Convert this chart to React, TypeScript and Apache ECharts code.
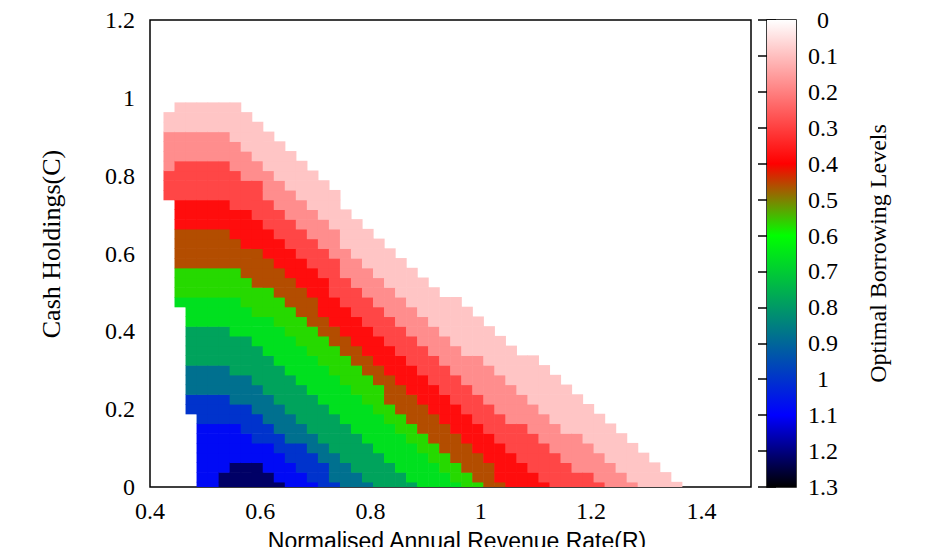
import React, { useEffect, useRef } from "react";
import * as echarts from "echarts";

// Grid of the map (cell centres)
const R_START = 0.435;
const R_STEP = 0.02;
const R_COUNT = 48;
const C_STEP = 0.025;
const C_COUNT = 40;

// Columns (R) at which band upper boundaries were read
const R_COLUMNS = [0.43, 0.47, 0.52, 0.55, 0.6, 0.65, 0.7, 0.8, 0.9, 1.0, 1.1, 1.2, 1.3, 1.4];

// Borrowing level of each band (outermost first)
const BAND_LEVELS = [0.09, 0.18, 0.29, 0.38, 0.46, 0.57, 0.66, 0.78, 0.88, 1.0, 1.08, 1.22];

// Upper boundary C of each band at R_COLUMNS
const BAND_TOPS = [
  [0.96, 0.99, 0.99, 0.99, 0.93, 0.87, 0.8, 0.66, 0.535, 0.43, 0.32, 0.2, 0.085, -0.05],
  [0.9, 0.91, 0.91, 0.89, 0.84, 0.78, 0.7, 0.56, 0.43, 0.32, 0.21, 0.1, -0.01, -0.15],
  [0.82, 0.835, 0.84, 0.82, 0.77, 0.7, 0.63, 0.48, 0.35, 0.24, 0.12, 0.025, -0.1, -0.2],
  [0.73, 0.737, 0.745, 0.72, 0.68, 0.62, 0.55, 0.4, 0.27, 0.16, 0.04, -0.08, -0.2, -0.3],
  [0.65, 0.66, 0.665, 0.64, 0.6, 0.54, 0.47, 0.33, 0.2, 0.07, -0.06, -0.2, -0.3, -0.4],
  [0.55, 0.563, 0.575, 0.56, 0.52, 0.46, 0.4, 0.27, 0.14, 0.0, -0.12, -0.2, -0.3, -0.4],
  [0.47, 0.488, 0.5, 0.48, 0.44, 0.39, 0.33, 0.21, 0.09, -0.04, -0.2, -0.3, -0.4, -0.5],
  [0.39, 0.41, 0.42, 0.4, 0.36, 0.3, 0.24, 0.11, -0.02, -0.2, -0.3, -0.4, -0.5, -0.6],
  [0.29, 0.305, 0.32, 0.3, 0.26, 0.2, 0.14, 0.01, -0.1, -0.2, -0.3, -0.4, -0.5, -0.6],
  [0.21, 0.225, 0.24, 0.22, 0.18, 0.13, 0.07, -0.06, -0.2, -0.3, -0.4, -0.5, -0.6, -0.7],
  [0.14, 0.16, 0.17, 0.16, 0.12, 0.07, 0.01, -0.1, -0.2, -0.3, -0.4, -0.5, -0.6, -0.7],
  [-0.1, -0.05, -0.01, 0.06, 0.07, 0.0, -0.1, -0.2, -0.3, -0.4, -0.5, -0.6, -0.7, -0.8],
];

// Left edge of the computed region: rows with C >= LEFT_EDGE_C[k] start at LEFT_EDGE_R[k]
const LEFT_EDGE_C = [0.75, 0.475, 0.2, 0];
const LEFT_EDGE_R = [0.435, 0.455, 0.475, 0.495];

// Axis ticks
const X_MIN = 0.4;
const X_MAX = 1.49;
const X_STEP = 0.2;
const Y_MIN = 0;
const Y_MAX = 1.2;
const Y_STEP = 0.2;
const CB_MIN = 0;
const CB_MAX = 1.3;
const CB_STEP = 0.1;

// Titles
const X_TITLE = "Normalised Annual Revenue Rate(R)";
const Y_TITLE = "Cash Holdings(C)";
const CB_TITLE = "Optimal Borrowing Levels";

// Palette (colour at every 0.1 from 0 to 1.3)
const PALETTE = [
  "#ffffff", "#ffbfbf", "#ff8080", "#ff4040", "#ff0000", "#808000", "#00ff00",
  "#00cc33", "#009966", "#006699", "#0033cc", "#0000ff", "#000080", "#000000",
];

function boundaryAt(tops: number[], r: number): number {
  if (r <= R_COLUMNS[0]) return tops[0];
  for (let i = 1; i < R_COLUMNS.length; i++) {
    if (r <= R_COLUMNS[i]) {
      const t = (r - R_COLUMNS[i - 1]) / (R_COLUMNS[i] - R_COLUMNS[i - 1]);
      return tops[i - 1] + t * (tops[i] - tops[i - 1]);
    }
  }
  return tops[tops.length - 1];
}

function leftEdge(c: number): number {
  for (let k = 0; k < LEFT_EDGE_C.length; k++) {
    if (c >= LEFT_EDGE_C[k] - 1e-9) return LEFT_EDGE_R[k];
  }
  return LEFT_EDGE_R[LEFT_EDGE_R.length - 1];
}

function buildCells(): number[][] {
  const cells: number[][] = [];
  for (let i = 0; i < R_COUNT; i++) {
    const r = Number((R_START + i * R_STEP).toFixed(4));
    for (let j = 0; j < C_COUNT; j++) {
      const c = Number((j * C_STEP).toFixed(4));
      if (r < leftEdge(c) - 1e-9) continue;
      let level = -1;
      for (let k = 0; k < BAND_TOPS.length; k++) {
        if (c <= boundaryAt(BAND_TOPS[k], r) + 1e-9) level = k;
      }
      if (level >= 0) cells.push([r, c, BAND_LEVELS[level]]);
    }
  }
  return cells;
}

const SERIF = "'Liberation Serif', 'Times New Roman', serif";
const SANS = "'Liberation Sans', Arial, sans-serif";

export default function App() {
  const ref = useRef<HTMLDivElement>(null);
  useEffect(() => {
    const chart = echarts.init(ref.current!, null, { renderer: "svg" });
    const cells = buildCells();
    const gradStops = PALETTE.map((color, i) => ({ offset: i / (PALETTE.length - 1), color }));
    const option: any = {
      animation: false,
      backgroundColor: "#ffffff",
      grid: [
        { left: 150, top: 20, width: 601, height: 467, outerBoundsMode: "none", containLabel: false, show: true, borderColor: "#000", borderWidth: 1.5, backgroundColor: "transparent" },
        { left: 767, top: 20, width: 29, height: 467, outerBoundsMode: "none", containLabel: false, show: true, borderColor: "#000", borderWidth: 1.5, backgroundColor: "transparent" },
      ],
      graphic: [
        {
          type: "text", x: 51, y: 244, rotation: Math.PI / 2,
          style: { text: Y_TITLE, fontFamily: SERIF, fontSize: 26, fill: "#000", align: "center", verticalAlign: "middle" },
        },
        {
          type: "text", x: 457, y: 529,
          style: { text: X_TITLE, fontFamily: SANS, fontSize: 23, fill: "#000", align: "center", verticalAlign: "top" },
        },
      ],
      xAxis: [
        {
          type: "value", gridIndex: 0, min: X_MIN, max: X_MAX, interval: X_STEP,
          axisLine: { show: false }, axisTick: { show: false }, splitLine: { show: false },
          axisLabel: { showMaxLabel: false, margin: 12, color: "#000", fontFamily: SERIF, fontSize: 24 },
        },
        { type: "value", gridIndex: 1, min: 0, max: 1, show: false },
      ],
      yAxis: [
        {
          type: "value", gridIndex: 0, min: Y_MIN, max: Y_MAX, interval: Y_STEP,
          axisLine: { show: false }, axisTick: { show: false }, splitLine: { show: false },
          axisLabel: { margin: 15, color: "#000", fontFamily: SERIF, fontSize: 24 },
        },
        {
          type: "value", gridIndex: 1, min: CB_MIN, max: CB_MAX, interval: CB_STEP, inverse: true, position: "right",
          axisLine: { show: false }, splitLine: { show: false },
          axisTick: { show: true, inside: true, length: 9, lineStyle: { color: "#000", width: 1.5 } },
          axisLabel: { margin: 27, align: "center", color: "#000", fontFamily: SERIF, fontSize: 24 },
          name: CB_TITLE, nameLocation: "middle", nameGap: 70, nameRotate: 90,
          nameTextStyle: { fontFamily: SERIF, fontSize: 24, color: "#000" },
        },
        {
          type: "value", gridIndex: 1, min: CB_MIN, max: CB_MAX, interval: CB_STEP, inverse: true, position: "left",
          axisLine: { show: false }, splitLine: { show: false }, axisLabel: { show: false },
          axisTick: { show: true, inside: true, length: 9, lineStyle: { color: "#000", width: 1.5 } },
        },
      ],
      visualMap: {
        type: "continuous", show: false, min: CB_MIN, max: CB_MAX, dimension: 2, seriesIndex: 0,
        inRange: { color: PALETTE },
      },
      series: [
        {
          type: "custom", xAxisIndex: 0, yAxisIndex: 0, clip: true, data: cells,
          renderItem: (params: any, api: any) => {
            const r = api.value(0);
            const c = api.value(1);
            const p0 = api.coord([r - R_STEP / 2, c + C_STEP / 2]);
            const p1 = api.coord([r + R_STEP / 2, c - C_STEP / 2]);
            return {
              type: "rect",
              shape: { x: p0[0] - 0.3, y: p0[1] - 0.3, width: p1[0] - p0[0] + 0.6, height: p1[1] - p0[1] + 0.6 },
              style: { fill: api.visual("color"), stroke: null },
            };
          },
        },
        {
          type: "custom", xAxisIndex: 1, yAxisIndex: 1, data: [[0]], silent: true, z: 1,
          renderItem: (params: any, api: any) => {
            const p0 = api.coord([0, CB_MIN]);
            const p1 = api.coord([1, CB_MAX]);
            return {
              type: "rect",
              shape: { x: p0[0], y: p0[1], width: p1[0] - p0[0], height: p1[1] - p0[1] },
              style: { fill: new echarts.graphic.LinearGradient(0, 0, 0, 1, gradStops), stroke: null },
            };
          },
        },
      ],
    };
    chart.setOption(option);
    return () => chart.dispose();
  }, []);
  return <div ref={ref} style={{ position: "fixed", left: 0, top: 0, width: 927, height: 547 }} />;
}
